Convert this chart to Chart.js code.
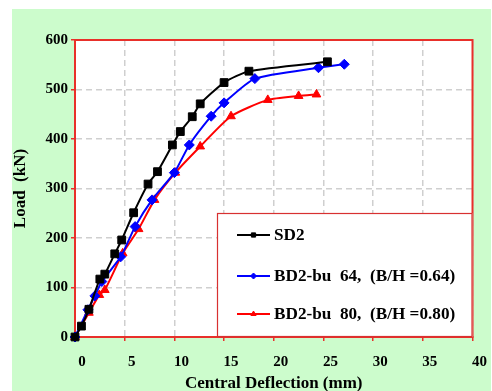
<!DOCTYPE html>
<html>
<head>
<meta charset="utf-8">
<script src="https://cdn.jsdelivr.net/npm/chart.js@4"></script>
<style>
  html, body { margin: 0; padding: 0; background: #fff; }
  #wrap { position: relative; width: 492px; height: 391px; overflow: hidden; }
  #bg { position: absolute; left: 12px; top: 9px; width: 479px; height: 382px; background: #ccfccc; }
  #chart { position: absolute; left: 0; top: 0; }
</style>
</head>
<body>
<div id="wrap">
  <div id="bg"></div>
  <canvas id="chart" width="492" height="391"></canvas>
</div>
<script>
// ---------- DATA ----------
const xTicks = [0, 5, 10, 15, 20, 25, 30, 35, 40];
const yTicks = [0, 100, 200, 300, 400, 500, 600];

const sd2Defl = [0, 0.65, 1.4, 2.5, 3.0, 4.0, 4.7, 5.9, 7.35, 8.3, 9.8, 10.6, 11.8, 12.6, 15.0, 17.5, 25.4];
const sd2Load = [0, 22, 56, 117, 127, 168, 196, 251, 309, 334, 388, 415, 445, 471, 514, 537, 556];

const bu64Defl = [0, 1.3, 2.0, 2.7, 4.6, 6.05, 7.75, 10.0, 11.5, 13.7, 15.0, 18.1, 24.5, 27.1];
const bu64Load = [0, 55, 83, 112, 162, 223, 277, 332, 388, 446, 473, 522, 544, 551];

const bu80Defl = [0, 1.4, 2.45, 3.0, 4.8, 6.4, 8.0, 10.1, 12.6, 15.7, 19.4, 22.5, 24.3];
const bu80Load = [0, 49, 85, 95, 169, 218, 277, 332, 385, 446, 479, 487, 490];

const seriesNames = ["SD2", "BD2-bu  64,  (B/H =0.64)", "BD2-bu  80,  (B/H =0.80)"];
const seriesColors = ["#000000", "#0000ff", "#ff0000"];
const seriesMarkers = ["rect", "rectRot", "triangle"];
const markerSizes = [5.5, 5, 5];

const FONT = "'Liberation Serif', 'Times New Roman', serif";

function toPoints(xs, ys) {
  return xs.map((x, i) => ({ x: x, y: ys[i] }));
}

// ---------- PLUGINS ----------
// white plot area + red frame
const plotFrame = {
  id: "plotFrame",
  beforeDraw(chart) {
    const { ctx, chartArea: a } = chart;
    ctx.save();
    ctx.fillStyle = "#fff";
    ctx.fillRect(a.left, a.top, a.right - a.left, a.bottom - a.top);
    ctx.restore();
  },
  beforeDatasetsDraw(chart) {
    const { ctx, chartArea: a } = chart;
    ctx.save();
    ctx.strokeStyle = "#e8302a";
    ctx.lineWidth = 2;
    ctx.strokeRect(a.left, a.top, a.right - a.left, a.bottom - a.top);
    ctx.restore();
  },
};

// boxed legend in the lower right corner of the plot
const boxLegend = {
  id: "boxLegend",
  afterDraw(chart) {
    const { ctx, chartArea: a } = chart;
    const left = 217, top = 213;
    ctx.save();
    ctx.fillStyle = "#fff";
    ctx.fillRect(left, top, a.right - left, a.bottom - top);
    ctx.strokeStyle = "#d83030";
    ctx.lineWidth = 1.2;
    ctx.strokeRect(left + 0.5, top + 0.5, a.right - left - 1, a.bottom - top - 1);

    const rows = [235, 276, 314];
    chart.data.datasets.forEach((ds, i) => {
      const y = rows[i];
      ctx.strokeStyle = ds.borderColor;
      ctx.fillStyle = ds.borderColor;
      ctx.lineWidth = 2;
      ctx.beginPath();
      ctx.moveTo(237, y);
      ctx.lineTo(270, y);
      ctx.stroke();
      ctx.lineWidth = 1;
      Chart.helpers.drawPoint(ctx, {
        pointStyle: ds.pointStyle,
        radius: 3,
        borderWidth: 1,
      }, 253.5, y);
      ctx.fillStyle = "#000";
      ctx.font = "bold 17.2px " + FONT;
      ctx.textBaseline = "middle";
      ctx.fillText(ds.label, 274, y + 1);
    });
    ctx.restore();
  },
};

// ---------- CHART ----------
const datasets = [
  toPoints(sd2Defl, sd2Load),
  toPoints(bu64Defl, bu64Load),
  toPoints(bu80Defl, bu80Load),
].map((pts, i) => ({
  label: seriesNames[i],
  data: pts,
  borderColor: seriesColors[i],
  backgroundColor: seriesColors[i],
  pointStyle: seriesMarkers[i],
  pointRadius: markerSizes[i],
  pointBorderWidth: 1,
  borderWidth: 2,
  tension: 0.2,
  clip: false,
}));

const gridOpts = {
  color: "#cfcfcf",
  lineWidth: 1.5,
  tickColor: "#e8302a",
  tickLength: 4,
  tickWidth: 1.5,
};

const borderOpts = { display: true, color: "#e8302a", width: 2, dash: [6, 4] };

new Chart(document.getElementById("chart").getContext("2d"), {
  type: "line",
  data: { datasets },
  options: {
    responsive: false,
    animation: false,
    layout: { padding: { left: 12, top: 40, right: 9, bottom: 0 } },
    plugins: { legend: { display: false }, tooltip: { enabled: false } },
    scales: {
      x: {
        type: "linear",
        min: 0,
        max: 40,
        afterBuildTicks: (s) => { s.ticks = xTicks.map((v) => ({ value: v })); },
        afterFit: (s) => { s.height = 54; },
        grid: gridOpts,
        border: borderOpts,
        ticks: {
          color: "#000",
          padding: 12,
          labelOffset: 7,
          font: { family: FONT, size: 15, weight: "bold" },
        },
        title: {
          display: true,
          text: "Central Deflection (mm)",
          color: "#000",
          padding: { top: 0, bottom: -1 },
          font: { family: FONT, size: 17, weight: "bold", lineHeight: 1 },
        },
      },
      y: {
        min: 0,
        max: 600,
        afterBuildTicks: (s) => { s.ticks = yTicks.map((v) => ({ value: v })); },
        afterFit: (s) => { s.width = 63; },
        grid: gridOpts,
        border: borderOpts,
        ticks: {
          color: "#000",
          padding: 3,
          font: { family: FONT, size: 15, weight: "bold" },
        },
        title: {
          display: true,
          text: "Load  (kN)",
          color: "#000",
          padding: 0,
          font: { family: FONT, size: 17, weight: "bold", lineHeight: 1 },
        },
      },
    },
  },
  plugins: [plotFrame, boxLegend],
});
</script>
</body>
</html>
